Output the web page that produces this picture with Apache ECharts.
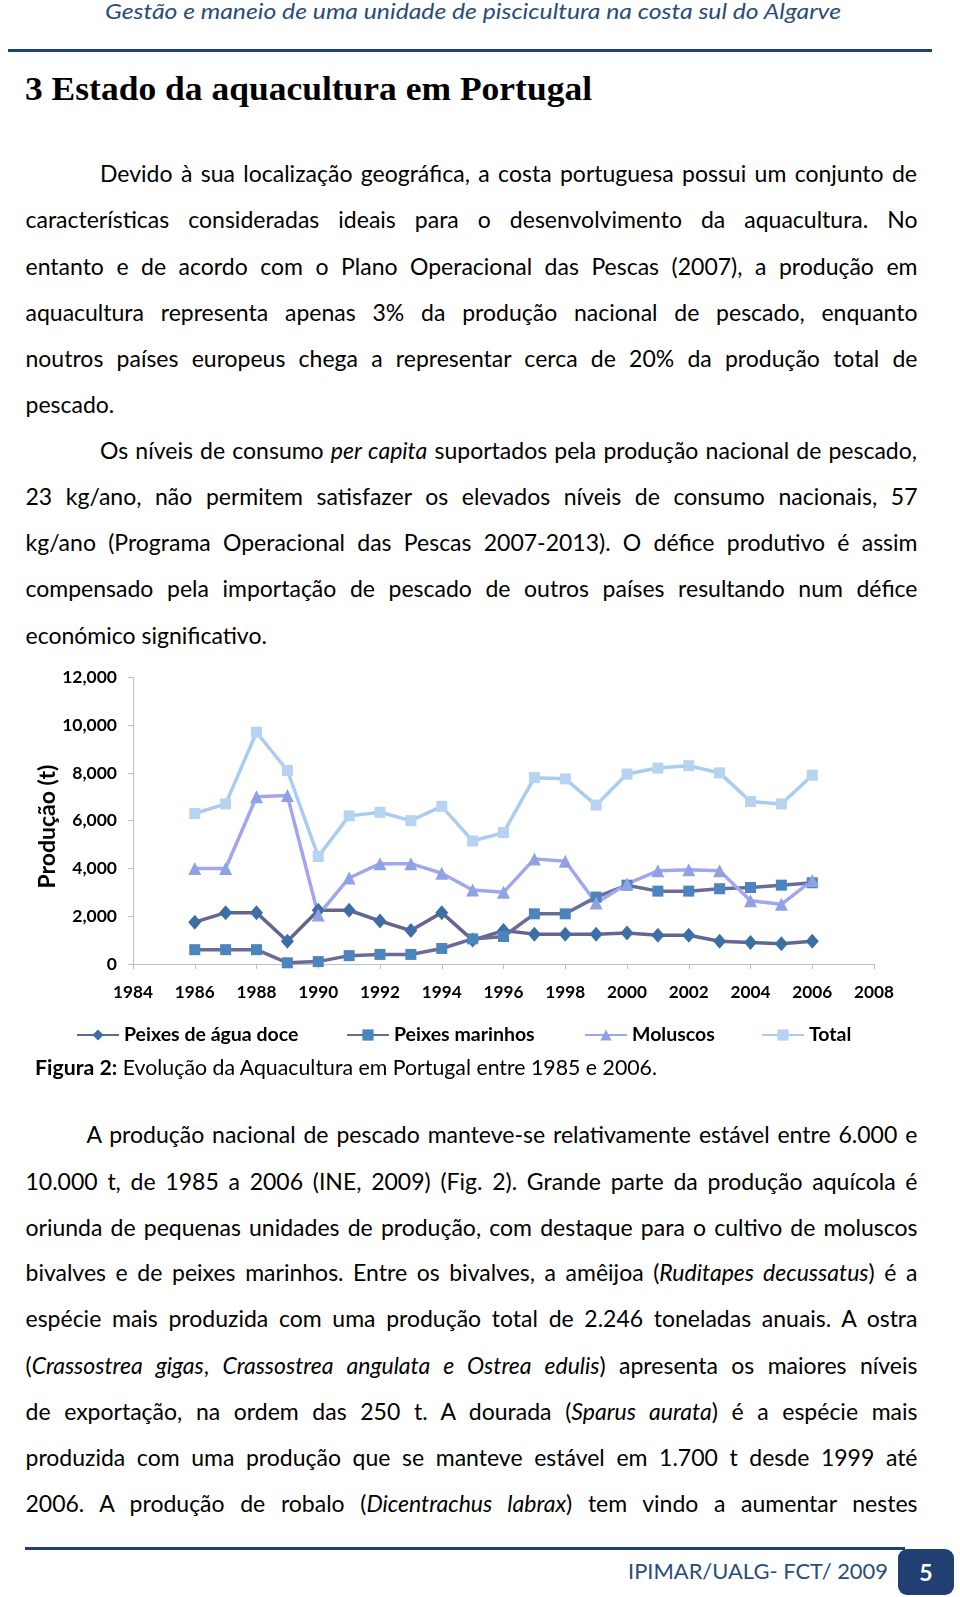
<!DOCTYPE html>
<html><head><meta charset="utf-8">
<script src="https://cdn.jsdelivr.net/npm/echarts@6/dist/echarts.min.js"></script>
<style>
html,body{margin:0;padding:0;background:#fff;}
body{width:960px;height:1597px;position:relative;overflow:hidden;font-family:Lato,'Open Sans',sans-serif;color:#000;}
.ln{position:absolute;white-space:nowrap;font-size:23px;line-height:28px;}
.s{transform-origin:0 50%;}
.hdr{position:absolute;white-space:nowrap;font-style:italic;font-size:21px;line-height:26px;color:#2a4c7a;}
.h1{position:absolute;white-space:nowrap;font-family:'Liberation Serif',serif;font-weight:bold;font-size:33px;line-height:40px;}
.rule{position:absolute;background:#1f4070;}
.foot{position:absolute;white-space:nowrap;font-size:22px;line-height:28px;color:#2a4c7a;}
.box{position:absolute;left:898px;top:1549px;width:56px;height:46px;background:#1f4070;border-radius:9px;color:#fff;font-weight:bold;font-size:23px;line-height:46px;text-align:center;}
#chart{position:absolute;left:0;top:650px;width:960px;height:420px;}
</style></head>
<body>
<div class="hdr s" style="left:105px;top:-2px" data-w="736">Gestão e maneio de uma unidade de piscicultura na costa sul do Algarve</div>
<div class="rule" style="left:8px;top:49px;width:924px;height:3px"></div>
<div class="h1 s" style="left:25px;top:69px" data-w="567">3 Estado da aquacultura em Portugal</div>

<div class="ln j" style="left:100px;top:159px" data-w="817">Devido à sua localização geográfica, a costa portuguesa possui um conjunto de</div>
<div class="ln j" style="left:25.5px;top:205px" data-w="892">características consideradas ideais para o desenvolvimento da aquacultura. No</div>
<div class="ln j" style="left:25.5px;top:252px" data-w="892">entanto e de acordo com o Plano Operacional das Pescas (2007), a produção em</div>
<div class="ln j" style="left:25.5px;top:298px" data-w="892">aquacultura representa apenas 3% da produção nacional de pescado, enquanto</div>
<div class="ln j" style="left:25.5px;top:344px" data-w="892">noutros países europeus chega a representar cerca de 20% da produção total de</div>
<div class="ln" style="left:25.5px;top:390px">pescado.</div>
<div class="ln j" style="left:100px;top:436px" data-w="817">Os níveis de consumo <i>per capita</i> suportados pela produção nacional de pescado,</div>
<div class="ln j" style="left:25.5px;top:482px" data-w="892">23 kg/ano, não permitem satisfazer os elevados níveis de consumo nacionais, 57</div>
<div class="ln j" style="left:25.5px;top:528px" data-w="892">kg/ano (Programa Operacional das Pescas 2007-2013). O défice produtivo é assim</div>
<div class="ln j" style="left:25.5px;top:574px" data-w="892">compensado pela importação de pescado de outros países resultando num défice</div>
<div class="ln" style="left:25.5px;top:621px">económico significativo.</div>

<div id="chart"></div>

<div class="ln s" style="left:35px;top:1053px;font-size:20.5px" data-w="622"><b>Figura 2:</b> Evolução da Aquacultura em Portugal entre 1985 e 2006.</div>

<div class="ln j" style="left:86.5px;top:1120px" data-w="830.8">A produção nacional de pescado manteve-se relativamente estável entre 6.000 e</div>
<div class="ln j" style="left:25.5px;top:1167px" data-w="892">10.000 t, de 1985 a 2006 (INE, 2009) (Fig. 2). Grande parte da produção aquícola é</div>
<div class="ln j" style="left:25.5px;top:1213px" data-w="892">oriunda de pequenas unidades de produção, com destaque para o cultivo de moluscos</div>
<div class="ln j" style="left:25.5px;top:1258px" data-w="892">bivalves e de peixes marinhos. Entre os bivalves, a amêijoa (<i>Ruditapes decussatus</i>) é a</div>
<div class="ln j" style="left:25.5px;top:1304px" data-w="892">espécie mais produzida com uma produção total de 2.246 toneladas anuais. A ostra</div>
<div class="ln j" style="left:25.5px;top:1351px" data-w="892">(<i>Crassostrea gigas</i>, <i>Crassostrea angulata e Ostrea edulis</i>) apresenta os maiores níveis</div>
<div class="ln j" style="left:25.5px;top:1397px" data-w="892">de exportação, na ordem das 250 t. A dourada (<i>Sparus aurata</i>) é a espécie mais</div>
<div class="ln j" style="left:25.5px;top:1443px" data-w="892">produzida com uma produção que se manteve estável em 1.700 t desde 1999 até</div>
<div class="ln j" style="left:25.5px;top:1489px" data-w="892">2006. A produção de robalo (<i>Dicentrachus labrax</i>) tem vindo a aumentar nestes</div>

<div class="rule" style="left:25px;top:1547px;width:880px;height:3px"></div>
<div class="foot s" style="left:628px;top:1557px" data-w="260">IPIMAR/UALG- FCT/ 2009</div>
<div class="box">5</div>

<script>
// ---- data ----
const years = [1986,1987,1988,1989,1990,1991,1992,1993,1994,1995,1996,1997,1998,1999,2000,2001,2002,2003,2004,2005,2006];
const aguaDoce = [1750,2150,2150,950,2250,2250,1800,1400,2150,1000,1400,1250,1250,1250,1300,1200,1200,950,900,850,950];
const marinhos = [600,600,600,50,100,350,400,400,650,1050,1150,2100,2100,2800,3300,3050,3050,3150,3200,3300,3400];
const moluscos = [4000,4000,7000,7050,2050,3600,4200,4200,3800,3100,3000,4400,4300,2550,3350,3900,3950,3900,2650,2500,3500];
const total = [6300,6700,9700,8100,4500,6200,6350,6000,6600,5150,5500,7800,7750,6650,7950,8200,8300,8000,6800,6700,7900];
const seriesNames = ['Peixes de água doce','Peixes marinhos','Moluscos','Total'];
const xMin = 1984, xMax = 2008, xStep = 2;
const yMin = 0, yMax = 12000, yStep = 2000;
const yName = 'Produção (t)';

// ---- text fitting ----
function fit(){
  document.querySelectorAll('.j').forEach(el=>{
    el.style.wordSpacing='0px'; el.style.transform='';
    const target=+el.dataset.w, w=el.getBoundingClientRect().width;
    const n=(el.textContent.match(/ /g)||[]).length;
    if(w>target){ el.style.transformOrigin='0 50%'; el.style.transform='scaleX('+(target/w)+')'; }
    else if(n>0){ el.style.wordSpacing=((target-w)/n)+'px'; }
  });
  document.querySelectorAll('.s').forEach(el=>{
    el.style.transform='';
    const target=+el.dataset.w, w=el.getBoundingClientRect().width;
    el.style.transform='scaleX('+(target/w)+')';
  });
}
fit();
if(document.fonts&&document.fonts.ready) document.fonts.ready.then(fit);

// ---- chart ----
const chart = echarts.init(document.getElementById('chart'), null, {renderer:'canvas'});
const FONT = 'Lato';
const styles = [
  {symbol:'diamond', size:[13,15], line:'#646690', item:'#3d6ea4'},
  {symbol:'rect', size:11, line:'#6a6c98', item:'#4b85c0'},
  {symbol:'triangle', size:13, line:'#a2a6ef', item:'#8fa2e4'},
  {symbol:'rect', size:11, line:'#a8cdf0', item:'#b6d3f1'}
];
const valueSets = [aguaDoce, marinhos, moluscos, total];
const legendLefts = [76, 346, 584, 761];
chart.setOption({
  animation:false,
  grid:{left:133, right:86, top:27.3, bottom:106, containLabel:false},
  xAxis:{type:'value', min:xMin, max:xMax, interval:xStep,
    axisLine:{show:true, lineStyle:{color:'#bfbfbf', width:1}},
    axisTick:{show:true, length:5, lineStyle:{color:'#bfbfbf'}},
    splitLine:{show:false},
    axisLabel:{margin:20, color:'#000', fontFamily:FONT, fontWeight:'bold', fontSize:17.2, formatter:v=>String(v)}},
  yAxis:{type:'value', min:yMin, max:yMax, interval:yStep,
    name:yName, nameLocation:'middle', nameRotate:90, nameGap:74, nameMoveOverlap:false,
    nameTextStyle:{color:'#000', fontFamily:FONT, fontWeight:'bold', fontSize:23, padding:[0,12,0,0]},
    axisLine:{show:true, lineStyle:{color:'#bfbfbf', width:1}},
    axisTick:{show:true, length:5, lineStyle:{color:'#bfbfbf'}},
    splitLine:{show:false},
    axisLabel:{margin:16, color:'#000', fontFamily:FONT, fontWeight:'bold', fontSize:17.5,
      formatter:v=>v.toLocaleString('en-US')}},
  legend: seriesNames.map((n,i)=>({data:[n], left:legendLefts[i], top:375, padding:0, itemWidth:42, itemHeight:14, selectedMode:false,
    textStyle:{color:'#000', fontFamily:FONT, fontWeight:'bold', fontSize:19.5}})),
  series: seriesNames.map((n,i)=>({
    name:n, type:'line', data: years.map((y,k)=>[y, valueSets[i][k]]),
    symbol:styles[i].symbol, symbolSize:styles[i].size, showAllSymbol:true,
    lineStyle:{color:styles[i].line, width:3.5},
    itemStyle:{color:styles[i].item}
  }))
});
</script>
</body></html>
